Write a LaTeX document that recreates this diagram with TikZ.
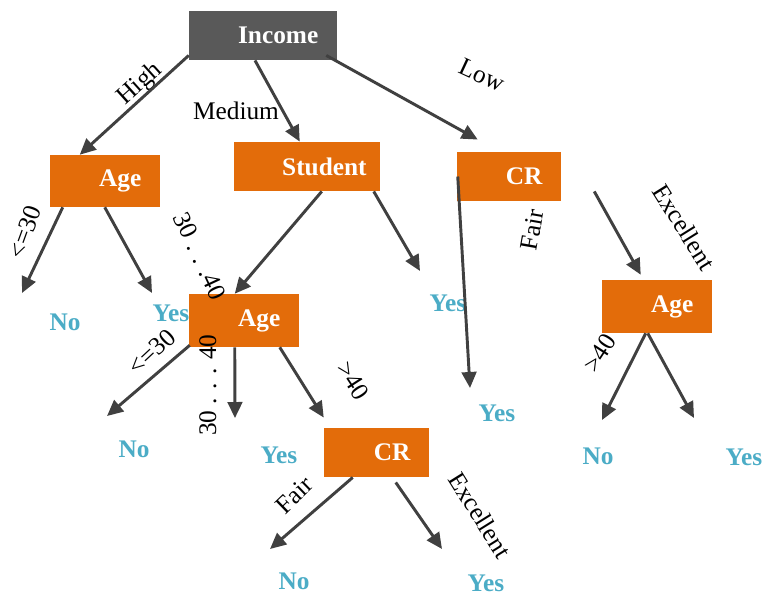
\documentclass[tikz,border=0pt]{standalone}
\usepackage{fontspec}
\setmainfont{Liberation Serif}
\usetikzlibrary{arrows.meta,calc}
\definecolor{boxorange}{HTML}{E36C0A}
\definecolor{boxgray}{HTML}{595959}
\definecolor{leafblue}{HTML}{4BACC6}
\definecolor{arrowgray}{HTML}{404040}
\newcommand{\treefont}{\fontsize{19}{23}\selectfont}
\tikzset{
  box/.style={fill=boxorange, text=white, font=\treefont\bfseries, align=right,
    inner xsep=14pt, inner ysep=0pt, minimum height=37pt},
  leaf/.style={text=leafblue, font=\treefont\bfseries, inner sep=0pt},
  lbl/.style={font=\treefont, inner sep=0pt},
  edge/.style={draw=arrowgray, line width=2.2pt, -{Triangle[length=12pt,width=11pt]}},
}
\begin{document}
\begin{tikzpicture}[x=0.75pt, y=-0.75pt]
	  \useasboundingbox (0,0) rectangle (766,597);
	  % decision boxes
	  \node (inc) [box, fill=boxgray, text width=83pt] at (263,35.5) {\raisebox{-2pt}{Income}};
	  \node (age1) [box, text width=54.5pt, minimum height=39pt] at (105,181) {\raisebox{-1pt}{Age}};
	  \node (stu) [box, inner xsep=10pt, text width=89.5pt] at (307,166.5) {\raisebox{-2pt}{Student}};
	  \node (cr1) [box, text width=50pt] at (509,176.5) {\raisebox{-2pt}{CR}};
	  \node (age2) [box, text width=54.5pt, minimum height=39.75pt] at (244,320.5) {\raisebox{-1pt}{Age}};
	  \node (age3) [box, text width=54.5pt, minimum height=39.75pt] at (657,306.5) {\raisebox{-1pt}{Age}};
	  \node (cr2) [box, text width=50.75pt] at (376.5,452.5) {\raisebox{-2pt}{CR}};
	  % leaves
	  \node (no1) [leaf] at (65,322) {No};
	  \node (yes1) [leaf] at (171,313) {Yes};
	  \node (yes2) [leaf] at (448,303) {Yes};
	  \node (yes3) [leaf] at (497,413) {Yes};
	  \node (no2) [leaf] at (134,449) {No};
	  \node (yes4) [leaf] at (279,455) {Yes};
	  \node (no3) [leaf] at (294,581) {No};
	  \node (yes5) [leaf] at (486,583) {Yes};
	  \node (no4) [leaf] at (598,456) {No};
	  \node (yes6) [leaf] at (744,457) {Yes};
	  % branch labels
	  \node (lhigh) [lbl, rotate=42] at (140,84) {High};
	  \node (lmed) [lbl] at (236,111) {Medium};
	  \node (llow) [lbl, rotate=-25] at (482,75) {Low};
	  \node (lyoungA) [lbl, rotate=70] at (25,232) {<=30};
	  \node (lmidA) [lbl, rotate=-65] at (200,256) {30 . . .40};
	  \node (lfairA) [lbl, rotate=80] at (532,230) {Fair};
	  \node (lexcA) [lbl, rotate=-58] at (684,227) {Excellent};
	  \node (lyoungB) [lbl, rotate=43] at (152,352) {<=30};
	  \node (lmidB) [lbl, rotate=90] at (208,385) {30 . . . 40};
	  \node (loldB) [lbl, rotate=-57] at (353,381) {>40};
	  \node (loldC) [lbl, rotate=57] at (600,353) {>40};
	  \node (lfairB) [lbl, rotate=44] at (294,495) {Fair};
	  \node (lexcB) [lbl, rotate=-58] at (480,515) {Excellent};
	  % branches
	  \draw[edge] ($(inc.south west)+(0,-5)$) to ($(age1.north west)+(30,0)$);
	  \draw[edge] ($(inc.south)+(-8,0)$) to ($(stu.north west)+(66,0)$);
	  \draw[edge] ($(inc.south east)+(-11,-5)$) to ($(cr1.north west)+(21,-12)$);
	  \draw[edge] ($(age1.south west)+(13,0)$) to ($(no1)+(-43,-29)$);
	  \draw[edge] ($(age1.south west)+(55,0)$) to ($(yes1)+(-19,-20)$);
	  \draw[edge] ($(stu.south west)+(88,0)$) to ($(age2.north west)+(46,0)$);
	  \draw[edge] ($(stu.south west)+(140,0)$) to ($(yes2)+(-28,-32)$);
	  \draw[edge] ($(cr1.west)+(1,0)$) to ($(yes3)+(-27,-25)$);
	  \draw[edge] ($(cr1.south east)+(33,-10)$) to ($(age3.north west)+(39,-5)$);
	  \draw[edge] ($(age3.south west)+(44,0)$) to ($(no4)+(4,-36)$);
	  \draw[edge] ($(age3.south west)+(46,0)$) to ($(yes6)+(-50,-39)$);
	  \draw[edge] ($(age2.south west)+(1,-2)$) to ($(no2)+(-27,-33)$);
	  \draw[edge] ($(age2.south west)+(46,0)$) to ($(yes4)+(-44,-37)$);
	  \draw[edge] ($(age2.south west)+(91,0)$) to ($(cr2.north west)+(0,-10)$);
	  \draw[edge] ($(cr2.south west)+(29,0)$) to ($(no3)+(-24,-32)$);
	  \draw[edge] ($(cr2.south west)+(72,5)$) to ($(yes5)+(-44,-34)$);
	\end{tikzpicture}
\end{document}
